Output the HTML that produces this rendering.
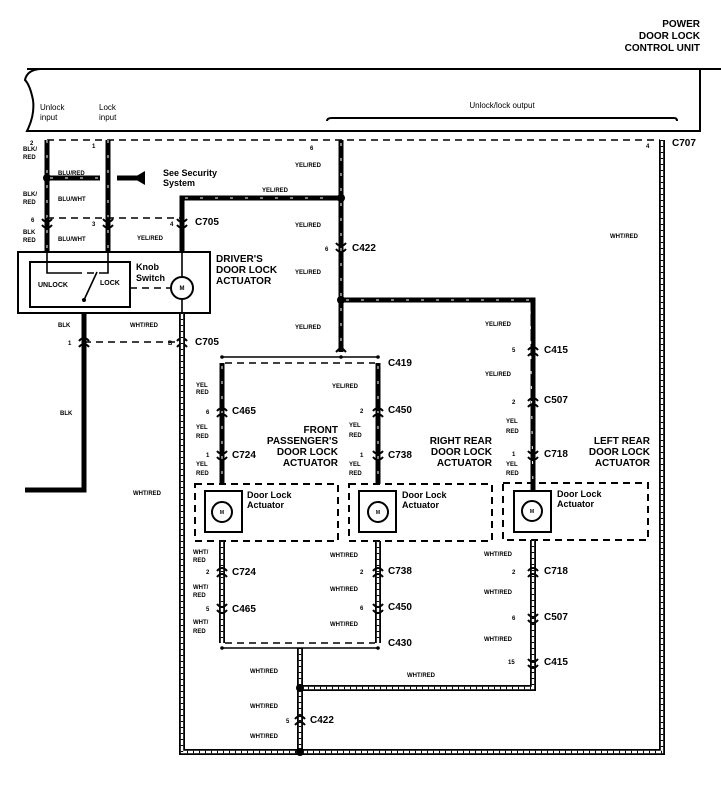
<!DOCTYPE html>
<html><head><meta charset="utf-8"><style>
html,body{margin:0;padding:0;background:#fff}
svg{display:block}
text{font-family:"Liberation Sans",sans-serif;font-weight:bold;fill:#000}
.s{font-size:6px}.c{font-size:10px}.l{font-size:10px}
.w{stroke:#000;stroke-width:5;fill:none}
.t{stroke:#fff;stroke-width:1;stroke-dasharray:3 12;fill:none}
.h{stroke:#000;stroke-width:6;fill:none}
.hi{stroke:#fff;stroke-width:2.4;fill:none}
.hd{stroke:#000;stroke-width:2.4;stroke-dasharray:1 5;fill:none}
.d{stroke:#000;stroke-width:1.6;stroke-dasharray:7 5;fill:none}
.n{stroke:#000;stroke-width:1.6;fill:none}
.k{stroke:#000;stroke-width:2;fill:none}
.cn{stroke:#000;stroke-width:2;fill:none}
</style></head><body>
<svg width="721" height="801" viewBox="0 0 721 801" xmlns="http://www.w3.org/2000/svg">
<!-- title -->
<text class="l" x="700" y="27" text-anchor="end">POWER</text>
<text class="l" x="700" y="39" text-anchor="end">DOOR LOCK</text>
<text class="l" x="700" y="51" text-anchor="end">CONTROL UNIT</text>
<!-- control unit box -->
<path d="M721 69 L700 69 L700 131 L27 131 Q35 115 33 100 Q30 85 25 80 Q27 70 40 69 L700 69" class="k"/>
<path d="M27 69 L721 69" class="k"/>
<text style="font-size:8px;font-weight:normal" x="40" y="110">Unlock</text>
<text style="font-size:8px;font-weight:normal" x="40" y="120">input</text>
<text style="font-size:8px;font-weight:normal" x="99" y="110">Lock</text>
<text style="font-size:8px;font-weight:normal" x="99" y="120">input</text>
<text style="font-size:8px;font-weight:normal" x="502" y="108" text-anchor="middle">Unlock/lock output</text>
<path d="M327 121 Q327 118 332 118 L674 118 Q677 118 677 121" class="k"/>
<!-- dashed top connector line -->
<path d="M47 140 L660 140" class="d"/>
<!-- unlock/lock inputs -->
<path d="M47 140 L47 252" class="w"/><path d="M47 140 L47 252" class="t"/>
<path d="M108 140 L108 252" class="w"/><path d="M108 140 L108 252" class="t"/>
<circle cx="47" cy="178" r="4"/>
<path d="M47 178 L100 178" class="w"/><path d="M50 178 L100 178" class="t"/>
<path d="M117 178 L145 178" class="w"/><path d="M145 171 L145 185 L133 178 Z"/>
<text style="font-size:9px" x="163" y="176">See Security</text>
<text style="font-size:9px" x="163" y="186">System</text>
<text class="s" x="58" y="175">BLU/RED</text>
<text class="s" x="58" y="201">BLU/WHT</text>
<text class="s" x="58" y="241">BLU/WHT</text>
<text class="s" x="23" y="151">BLK/</text><text class="s" x="23" y="159">RED</text>
<text class="s" x="23" y="196">BLK/</text><text class="s" x="23" y="204">RED</text>
<text class="s" x="23" y="234">BLK</text><text class="s" x="23" y="242">RED</text>
<text class="s" x="30" y="145">2</text><text class="s" x="92" y="148">1</text>
<text class="s" x="31" y="222">6</text><text class="s" x="92" y="226">3</text><text class="s" x="170" y="226">4</text>
<path d="M47 218 L182 218" class="d"/>
<!-- connectors at C705 top -->
<g class="cn">
<path d="M42 219 Q47 225 52 219 M42 225 Q47 231 52 225"/>
<path d="M103 219 Q108 225 113 219 M103 225 Q108 231 113 225"/>
<path d="M177 219 Q182 225 187 219 M177 225 Q182 231 187 225"/>
</g>
<text class="c" x="195" y="225">C705</text>
<text class="s" x="137" y="240">YEL/RED</text>
<!-- yel/red branch to driver -->
<path d="M182 252 L182 198 L338 198" class="w"/><path d="M185 198 L335 198" class="t"/>
<text class="s" x="262" y="192">YEL/RED</text>
<!-- driver box -->
<rect x="18" y="252" width="192" height="61" class="k"/>
<rect x="30" y="262" width="100" height="45" class="k"/>
<path d="M47 252 L47 273 L75 273" class="n"/><path d="M75 273 L100 273" class="d"/><path d="M100 273 L108 273 L108 252" class="n"/>
<path d="M84 300 L97 272" class="n"/><circle cx="84" cy="300" r="2"/>
<text style="font-size:7px" x="38" y="287">UNLOCK</text><text style="font-size:7px" x="100" y="285">LOCK</text>
<text style="font-size:9px" x="136" y="270">Knob</text><text style="font-size:9px" x="136" y="281">Switch</text>
<path d="M130 288 L170 288" class="d"/>
<path d="M182 252 L182 276 M182 300 L182 313" class="n"/>
<circle cx="182" cy="288" r="11" class="k"/><text style="font-size:6px" x="182" y="290" text-anchor="middle">M</text>
<text class="l" x="216" y="262">DRIVER'S</text><text class="l" x="216" y="273">DOOR LOCK</text><text class="l" x="216" y="284">ACTUATOR</text>
<!-- BLK -->
<path d="M84 313 L84 490 L25 490" class="w"/>
<text class="s" x="58" y="327">BLK</text><text class="s" x="60" y="415">BLK</text>
<path d="M84 342 L182 342" class="d"/>
<g class="cn"><path d="M79 341 Q84 335 89 341 M79 347 Q84 341 89 347"/>
<path d="M177 341 Q182 335 187 341 M177 347 Q182 341 187 347"/></g>
<text class="s" x="68" y="345">1</text><text class="s" x="168" y="345">B</text>
<text class="c" x="195" y="345">C705</text>
<text class="s" x="130" y="327">WHT/RED</text>
<text class="s" x="133" y="495">WHT/RED</text>
<!-- WHT/RED big loop -->
<path d="M182 313 L182 752 L662 752 L662 140" class="h"/><path d="M182 313 L182 752 L662 752 L662 140" class="hi"/><path d="M182 313 L182 752 L662 752 L662 140" class="hd"/>
<text class="s" x="646" y="148">4</text><text class="c" x="672" y="146">C707</text>
<text class="s" x="610" y="238">WHT/RED</text>
<!-- main YEL/RED trunk -->
<path d="M341 140 L341 352" class="w"/><path d="M341 143 L341 350" class="t"/>
<circle cx="341" cy="198" r="4"/><circle cx="341" cy="300" r="4"/>
<text class="s" x="310" y="150">6</text>
<text class="s" x="295" y="167">YEL/RED</text><text class="s" x="295" y="227">YEL/RED</text><text class="s" x="295" y="274">YEL/RED</text><text class="s" x="295" y="329">YEL/RED</text>
<g class="cn"><path d="M336 243 Q341 249 346 243 M336 249 Q341 255 346 249"/></g>
<text class="s" x="325" y="251">6</text><text class="c" x="352" y="251">C422</text>
<path d="M341 300 L533 300 L533 490" class="w"/><path d="M346 300 L530 300 L533 490" class="t"/>
<!-- C419 -->
<path d="M222 357 L378 357" class="n"/><circle cx="222" cy="357" r="1.8"/><circle cx="341" cy="357" r="1.8"/><circle cx="378" cy="357" r="1.8"/>
<path d="M336 352 L341 347 L346 352" class="k"/>
<path d="M225 363 L375 363" class="d"/>
<text class="c" x="388" y="366">C419</text>
<!-- front passenger / right rear YEL wires -->
<path d="M222 363 L222 484" class="w"/><path d="M222 366 L222 480" class="t"/>
<path d="M378 363 L378 484" class="w"/><path d="M378 366 L378 480" class="t"/>
<g class="cn">
<path d="M217 411 Q222 405 227 411 M217 417 Q222 411 227 417"/>
<path d="M217 451 Q222 457 227 451 M217 457 Q222 463 227 457"/>
<path d="M373 411 Q378 405 383 411 M373 417 Q378 411 383 417"/>
<path d="M373 451 Q378 457 383 451 M373 457 Q378 463 383 457"/>
<path d="M528 350 Q533 344 538 350 M528 356 Q533 350 538 356"/>
<path d="M528 401 Q533 395 538 401 M528 407 Q533 401 538 407"/>
<path d="M528 451 Q533 457 538 451 M528 457 Q533 463 538 457"/>
</g>
<text class="s" x="196" y="387">YEL</text><text class="s" x="196" y="394">RED</text>
<text class="s" x="206" y="414">6</text><text class="c" x="232" y="414">C465</text>
<text class="s" x="196" y="429">YEL</text><text class="s" x="196" y="438">RED</text>
<text class="s" x="206" y="457">1</text><text class="c" x="232" y="458">C724</text>
<text class="s" x="196" y="466">YEL</text><text class="s" x="196" y="475">RED</text>
<text class="s" x="332" y="388">YEL/RED</text>
<text class="s" x="360" y="413">2</text><text class="c" x="388" y="413">C450</text>
<text class="s" x="349" y="427">YEL</text><text class="s" x="349" y="437">RED</text>
<text class="s" x="360" y="457">1</text><text class="c" x="388" y="458">C738</text>
<text class="s" x="349" y="466">YEL</text><text class="s" x="349" y="475">RED</text>
<text class="l" x="338" y="433" text-anchor="end">FRONT</text><text class="l" x="338" y="444" text-anchor="end">PASSENGER'S</text><text class="l" x="338" y="455" text-anchor="end">DOOR LOCK</text><text class="l" x="338" y="466" text-anchor="end">ACTUATOR</text>
<text class="l" x="492" y="444" text-anchor="end">RIGHT REAR</text><text class="l" x="492" y="455" text-anchor="end">DOOR LOCK</text><text class="l" x="492" y="466" text-anchor="end">ACTUATOR</text>
<text class="l" x="650" y="444" text-anchor="end">LEFT REAR</text><text class="l" x="650" y="455" text-anchor="end">DOOR LOCK</text><text class="l" x="650" y="466" text-anchor="end">ACTUATOR</text>
<text class="s" x="485" y="326">YEL/RED</text><text class="s" x="512" y="352">5</text><text class="c" x="544" y="353">C415</text>
<text class="s" x="485" y="376">YEL/RED</text><text class="s" x="512" y="404">2</text><text class="c" x="544" y="403">C507</text>
<text class="s" x="506" y="423">YEL</text><text class="s" x="506" y="433">RED</text>
<text class="s" x="512" y="456">1</text><text class="c" x="544" y="457">C718</text>
<text class="s" x="506" y="466">YEL</text><text class="s" x="506" y="475">RED</text>
<!-- actuator boxes -->
<rect x="195" y="484" width="143" height="57" class="d" style="stroke-width:2"/>
<rect x="349" y="484" width="143" height="57" class="d" style="stroke-width:2"/>
<rect x="503" y="483" width="145" height="57" class="d" style="stroke-width:2"/>
<rect x="205" y="491" width="37" height="41" class="k"/>
<rect x="359" y="491" width="37" height="41" class="k"/>
<rect x="514" y="491" width="37" height="41" class="k"/>
<g class="k">
<circle cx="222" cy="512" r="10"/><circle cx="378" cy="512" r="10"/><circle cx="532" cy="511" r="10"/>
</g>
<text style="font-size:5px" x="222" y="514" text-anchor="middle">M</text><text style="font-size:5px" x="378" y="514" text-anchor="middle">M</text><text style="font-size:5px" x="532" y="513" text-anchor="middle">M</text>
<text style="font-size:9px" x="247" y="498">Door Lock</text><text style="font-size:9px" x="247" y="508">Actuator</text>
<text style="font-size:9px" x="402" y="498">Door Lock</text><text style="font-size:9px" x="402" y="508">Actuator</text>
<text style="font-size:9px" x="557" y="497">Door Lock</text><text style="font-size:9px" x="557" y="507">Actuator</text>
<!-- WHT/RED lower -->
<g>
<path d="M222 541 L222 643 M378 541 L378 643 M533 540 L533 688 L300 688 M300 648 L300 752" class="h"/>
<path d="M222 541 L222 643 M378 541 L378 643 M533 540 L533 688 L300 688 M300 648 L300 752" class="hi"/>
<path d="M222 541 L222 643 M378 541 L378 643 M533 540 L533 688 L300 688 M300 648 L300 752" class="hd"/>
</g>
<path d="M225 643 L375 643" class="d"/>
<path d="M222 648 L378 648" class="n"/><circle cx="222" cy="648" r="1.8"/><circle cx="378" cy="648" r="1.8"/>
<circle cx="300" cy="688" r="4"/><circle cx="300" cy="752" r="4"/>
<g class="cn">
<path d="M217 571 Q222 565 227 571 M217 577 Q222 571 227 577"/>
<path d="M217 604 Q222 610 227 604 M217 610 Q222 616 227 610"/>
<path d="M373 571 Q378 565 383 571 M373 577 Q378 571 383 577"/>
<path d="M373 604 Q378 610 383 604 M373 610 Q378 616 383 610"/>
<path d="M528 571 Q533 565 538 571 M528 577 Q533 571 538 577"/>
<path d="M528 614 Q533 620 538 614 M528 620 Q533 626 538 620"/>
<path d="M528 659 Q533 665 538 659 M528 665 Q533 671 538 665"/>
<path d="M295 719 Q300 713 305 719 M295 725 Q300 719 305 725"/>
</g>
<text class="s" x="193" y="554">WHT/</text><text class="s" x="193" y="562">RED</text>
<text class="s" x="206" y="574">2</text><text class="c" x="232" y="575">C724</text>
<text class="s" x="193" y="589">WHT/</text><text class="s" x="193" y="597">RED</text>
<text class="s" x="206" y="611">5</text><text class="c" x="232" y="612">C465</text>
<text class="s" x="193" y="624">WHT/</text><text class="s" x="193" y="633">RED</text>
<text class="s" x="330" y="557">WHT/RED</text><text class="s" x="360" y="574">2</text><text class="c" x="388" y="574">C738</text>
<text class="s" x="330" y="591">WHT/RED</text><text class="s" x="360" y="610">6</text><text class="c" x="388" y="610">C450</text>
<text class="s" x="330" y="626">WHT/RED</text><text class="c" x="388" y="646">C430</text>
<text class="s" x="484" y="556">WHT/RED</text><text class="s" x="512" y="574">2</text><text class="c" x="544" y="574">C718</text>
<text class="s" x="484" y="594">WHT/RED</text><text class="s" x="512" y="620">6</text><text class="c" x="544" y="620">C507</text>
<text class="s" x="484" y="641">WHT/RED</text><text class="s" x="508" y="664">15</text><text class="c" x="544" y="665">C415</text>
<text class="s" x="250" y="673">WHT/RED</text><text class="s" x="407" y="677">WHT/RED</text>
<text class="s" x="250" y="708">WHT/RED</text><text class="s" x="286" y="723">5</text><text class="c" x="310" y="723">C422</text>
<text class="s" x="250" y="738">WHT/RED</text>
</svg>
</body></html>
